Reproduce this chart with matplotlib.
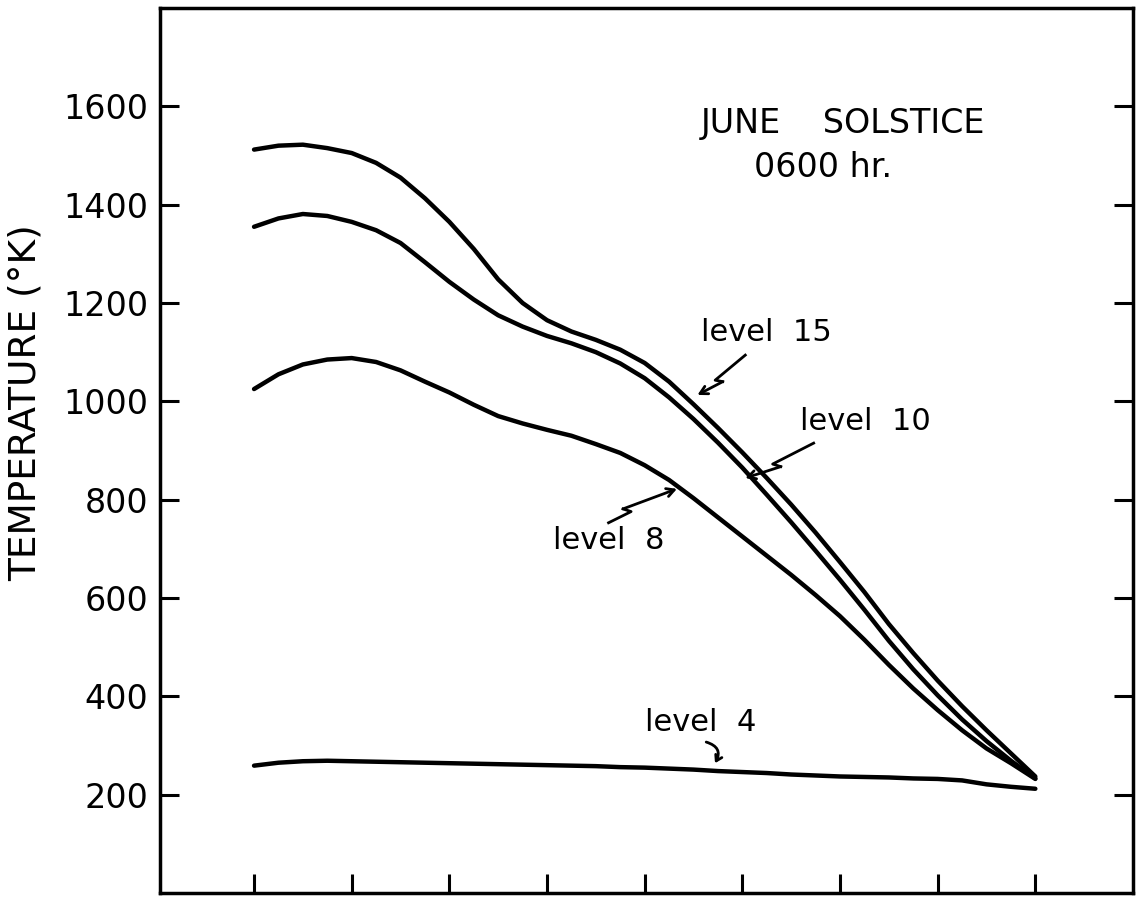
import numpy as np
import matplotlib
matplotlib.use("Agg")
import matplotlib.pyplot as plt

# ---------------------------------------------------------------------------
# Temperature profiles, June solstice, 0600 hr
# ---------------------------------------------------------------------------
x_pos = np.arange(0, 8.25, 0.25)

level_15 = [1512, 1520, 1522, 1515, 1505, 1485, 1455, 1413, 1365, 1310, 1248,
            1200, 1165, 1142, 1125, 1105, 1078, 1040, 994, 946, 896, 844, 790,
            733, 673, 612, 547, 488, 432, 380, 331, 284, 237]
level_10 = [1355, 1372, 1381, 1377, 1365, 1348, 1322, 1283, 1243, 1207, 1175,
            1152, 1133, 1118, 1100, 1077, 1047, 1008, 964, 916, 865, 810, 754,
            696, 637, 576, 513, 455, 402, 353, 309, 269, 233]
level_8 = [1025, 1055, 1075, 1085, 1088, 1080, 1063, 1040, 1018, 993, 970,
           955, 942, 930, 913, 895, 870, 840, 803, 764, 725, 686, 647, 606,
           563, 515, 464, 416, 372, 331, 294, 264, 232]
level_4 = [259, 265, 268, 269, 268, 267, 266, 265, 264, 263, 262, 261, 260,
           259, 258, 256, 255, 253, 251, 248, 246, 244, 241, 239, 237, 236,
           235, 233, 232, 229, 221, 216, 212]

y_ticks = [200, 400, 600, 800, 1000, 1200, 1400, 1600]
x_ticks = [0, 1, 2, 3, 4, 5, 6, 7, 8]

fig = plt.figure(figsize=(11.39, 8.97), dpi=100)
ax = fig.add_axes([160 / 1139, 4 / 897, 973 / 1139, 885 / 897])

for series in (level_15, level_10, level_8, level_4):
    ax.plot(x_pos, series, color="black", lw=3.2,
            solid_capstyle="round", solid_joinstyle="round")

ax.set_xlim(-0.963, 9.0)
ax.set_ylim(0, 1800)

ax.set_xticks(x_ticks)
ax.set_xticklabels([])
ax.set_yticks(y_ticks)
ax.set_yticklabels([str(v) for v in y_ticks])

ax.tick_params(axis="y", direction="in", length=14, width=2.2,
               left=True, right=True, labelsize=24, pad=8.5)
ax.tick_params(axis="x", direction="in", length=14, width=2.2,
               bottom=True, top=False)
for sp in ax.spines.values():
    sp.set_linewidth(2.5)

fig.text(26 / 1139, 1 - 403 / 897, "TEMPERATURE (°K)", rotation=90,
         ha="center", va="center", fontsize=27)

ax.text(6.03, 1566, "JUNE    SOLSTICE", ha="center", va="center", fontsize=24)
ax.text(5.83, 1475, "0600 hr.", ha="center", va="center", fontsize=24)

# curve labels
ax.text(5.25, 1139, "level  15", ha="center", va="center", fontsize=22)
ax.text(6.26, 958, "level  10", ha="center", va="center", fontsize=22)
ax.text(3.63, 716, "level  8", ha="center", va="center", fontsize=22)
ax.text(4.57, 346, "level  4", ha="center", va="center", fontsize=22)


def zig_arrow(ax, start, tip, frac=0.5, side=1):
    # hand-lettered style pointer: shaft with a small jog, open head
    tr = ax.transData
    s = tr.transform(start)
    t = tr.transform(tip)
    d = t - s
    n = side * np.array([-d[1], d[0]]) / np.hypot(*d)
    p1 = s + (frac + 0.08) * d
    p2 = s + frac * d + 6 * n
    pts = tr.inverted().transform(np.vstack([s, p1, p2]))
    ax.plot(pts[:, 0], pts[:, 1], color="black", lw=2.0)
    ax.annotate("", xy=tip, xytext=pts[2],
                arrowprops=dict(arrowstyle="->,head_length=0.55,head_width=0.3",
                                lw=2.0, color="black", shrinkA=0, shrinkB=0))


zig_arrow(ax, (5.03, 1094), (4.54, 1013), frac=0.55)
zig_arrow(ax, (5.73, 915), (5.03, 844), frac=0.52)
zig_arrow(ax, (3.63, 753), (4.33, 822), frac=0.25)

ax.annotate("", xy=(4.72, 264), xytext=(4.63, 307),
            arrowprops=dict(arrowstyle="->,head_length=0.4,head_width=0.25",
                            connectionstyle="arc3,rad=-0.6",
                            lw=2.0, color="black", shrinkA=0, shrinkB=0))

fig.savefig("out.png", dpi=100)
